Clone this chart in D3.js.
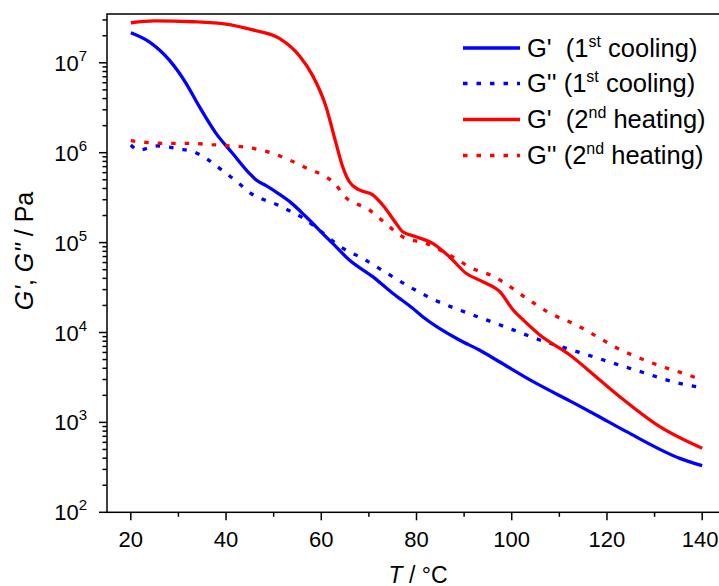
<!DOCTYPE html>
<html><head><meta charset="utf-8">
<script src="https://cdn.jsdelivr.net/npm/d3@7"></script>
<style>
body{margin:0;background:#fff}
svg{display:block}
text{font-family:Arial,"Liberation Sans",Helvetica,sans-serif;fill:#000}
</style>
</head><body>
<svg id="c" width="719" height="586"></svg>
<script>
// ---- data (T in °C, moduli in Pa) ----
const tCoolGp = [20,23.8,28.1,31.6,34.4,37.9,41.4,44.9,46.5,48.5,51,53.5,56.8,61.0,62.4,65.9,70.8,75.0,79.2,81.3,89.0,93.2,97.4,104.5,112.9,118.5,124.1,135.3,140];
const coolGp  = [2.16e7,1.72e7,1.07e7,5.92e6,3.25e6,1.64e6,9.8e5,5.9e5,4.9e5,4.27e5,3.51e5,2.82e5,1.94e5,1.16e5,9.8e4,6.4e4,4.18e4,2.73e4,1.86e4,1.5e4,8.26e3,6.38e3,4.73e3,2.84e3,1.66e3,1.15e3,789,398,330];

const tCoolGpp = [20,21.7,25.6,30.2,33,35.8,38.2,40.7,43.1,45.2,47.7,50.5,53.3,56.1,58.5,63.1,65.5,68,73.3,78.5,83.8,89,94.7,100.3,105.9,111.5,117.1,125.5,136.7,140];
const coolGpp  = [1.22e6,1.07e6,1.19e6,1.10e6,1.03e6,8.67e5,6.98e5,5.55e5,4.37e5,3.53e5,3.03e5,2.67e5,2.26e5,1.89e5,1.53e5,9.8e4,8.05e4,6.97e4,4.74e4,3.23e4,2.3e4,1.78e4,1.38e4,1.07e4,8.26e3,6.67e3,5.38e3,3.89e3,2.61e3,2.43e3];

const tHeatGp = [20,25,33,40,45.6,51.2,55.4,58.2,61.0,63.1,64.5,65.9,68,70.8,72.9,75.7,77.1,79.9,83.4,86.9,90.4,93.9,97.5,100.3,102.4,105.9,112.2,118.5,122.7,131.1,140];
const heatGp  = [2.79e7,2.92e7,2.86e7,2.70e7,2.32e7,1.87e7,1.2e7,7.2e6,3.25e6,1.27e6,6.98e5,4.75e5,3.85e5,3.39e5,2.62e5,1.64e5,1.32e5,1.16e5,9.8e4,6.97e4,4.56e4,3.67e4,2.85e4,1.78e4,1.38e4,9.38e3,5.62e3,2.96e3,1.93e3,896,515];

const tHeatGpp = [20,22,27,32,37,39.9,44.1,49.1,53.3,57.8,60.3,63.1,64.7,70.1,74.3,77.1,82,86.9,92.5,95.4,98.1,103.1,108,113.6,118.5,121.3,129.7,138.1,140];
const heatGpp  = [1.36e6,1.32e6,1.27e6,1.27e6,1.23e6,1.20e6,1.15e6,1.01e6,8.3e5,6.41e5,5.65e5,4.37e5,3.35e5,2.31e5,1.5e5,1.16e5,9.8e4,7.28e4,4.95e4,4.39e4,3.67e4,2.4e4,1.64e4,1.21e4,8.63e3,7.08e3,4.54e3,3.22e3,2.95e3];

const xTicks = [20,40,60,80,100,120,140];
const xMinor = [30,50,70,90,110,130];
const yExps = [2,3,4,5,6,7];

const seriesNames = ["G'  (1", "G'' (1", "G'  (2", "G'' (2"];
const seriesSup   = ["st","st","nd","nd"];
const seriesTail  = [" cooling)"," cooling)"," heating)"," heating)"];
const seriesColor = ["#0000ff","#0000ff","#ff0000","#ff0000"];
const seriesDash  = [null,"4.5,9",null,"4.5,9"];

// ---- layout ----
const svg = d3.select("#c");
const W = 719;
const L = 107, T0 = 14, B = 512.3, R = 726;
const x = d3.scaleLinear().domain([15,145]).range([L,R]);
const y = d3.scaleLog().domain([100,3.49e7]).range([B,T0]);

const series = [
  {t:tCoolGp, v:coolGp},
  {t:tCoolGpp, v:coolGpp},
  {t:tHeatGp, v:heatGp},
  {t:tHeatGpp, v:heatGpp}
];

const line = d3.line().x(d=>x(d[0])).y(d=>y(d[1])).curve(d3.curveMonotoneX);
const gData = svg.append("g");
series.forEach((s,i)=>{
  const pts = s.t.map((t,j)=>[t,s.v[j]]);
  gData.append("path").attr("d",line(pts)).attr("fill","none")
    .attr("stroke",seriesColor[i]).attr("stroke-width",3.3)
    .attr("stroke-dasharray",seriesDash[i]);
});

// ---- axes ----
const ax = svg.append("g").attr("stroke","#000").attr("stroke-width",1.5);
ax.append("rect").attr("x",L).attr("y",T0).attr("width",R-L).attr("height",B-T0).attr("fill","none");

xTicks.forEach(v=>{
  ax.append("line").attr("x1",x(v)).attr("x2",x(v)).attr("y1",B).attr("y2",B+8);
});
xMinor.forEach(v=>{
  ax.append("line").attr("x1",x(v)).attr("x2",x(v)).attr("y1",B).attr("y2",B+4.5);
});
xTicks.forEach(v=>{
  const t = svg.append("text").attr("x",x(v)).attr("y",547).attr("text-anchor","middle")
    .attr("font-size",22).text(v);
  const bb = t.node().getBBox();
  if (bb.x + bb.width > W - 0.5) t.attr("text-anchor","end").attr("x", W - 0.5);
});

yExps.forEach(e=>{
  const v = Math.pow(10,e);
  ax.append("line").attr("x1",L-8).attr("x2",L).attr("y1",y(v)).attr("y2",y(v));
  for(let k=2;k<=9;k++){
    const m = k*v;
    if(m<=y.domain()[1]) ax.append("line").attr("x1",L-4.5).attr("x2",L).attr("y1",y(m)).attr("y2",y(m));
  }
  const tx = svg.append("text").attr("x",87).attr("y",y(v)+8).attr("text-anchor","end").attr("font-size",22);
  tx.append("tspan").text("10");
  tx.append("tspan").attr("font-size",15).attr("dy",-10).text(e);
});

const xt = svg.append("text").attr("x",418).attr("y",582.5).attr("text-anchor","middle").attr("font-size",23);
xt.append("tspan").attr("font-style","italic").text("T");
xt.append("tspan").text(" / °C");

const yt = svg.append("text").attr("transform","translate(33,251) rotate(-90)").attr("text-anchor","middle").attr("font-size",25);
yt.append("tspan").attr("font-style","italic").text("G'");
yt.append("tspan").text(", ");
yt.append("tspan").attr("font-style","italic").text("G''");
yt.append("tspan").text(" / Pa");

// ---- legend ----
const rowsY = [48,83.5,119.5,155.5];
seriesNames.forEach((n,i)=>{
  const ly = rowsY[i];
  svg.append("line").attr("x1",463).attr("x2",520).attr("y1",ly).attr("y2",ly)
    .attr("stroke",seriesColor[i]).attr("stroke-width",3.3).attr("stroke-dasharray",seriesDash[i]);
  const t = svg.append("text").attr("x",527).attr("y",ly+8.5).attr("font-size",25.5).style("white-space","pre");
  t.append("tspan").text(n);
  t.append("tspan").attr("font-size",16).attr("dy",-10).text(seriesSup[i]);
  t.append("tspan").attr("dy",10).text(seriesTail[i]);
});
</script>
</body></html>
